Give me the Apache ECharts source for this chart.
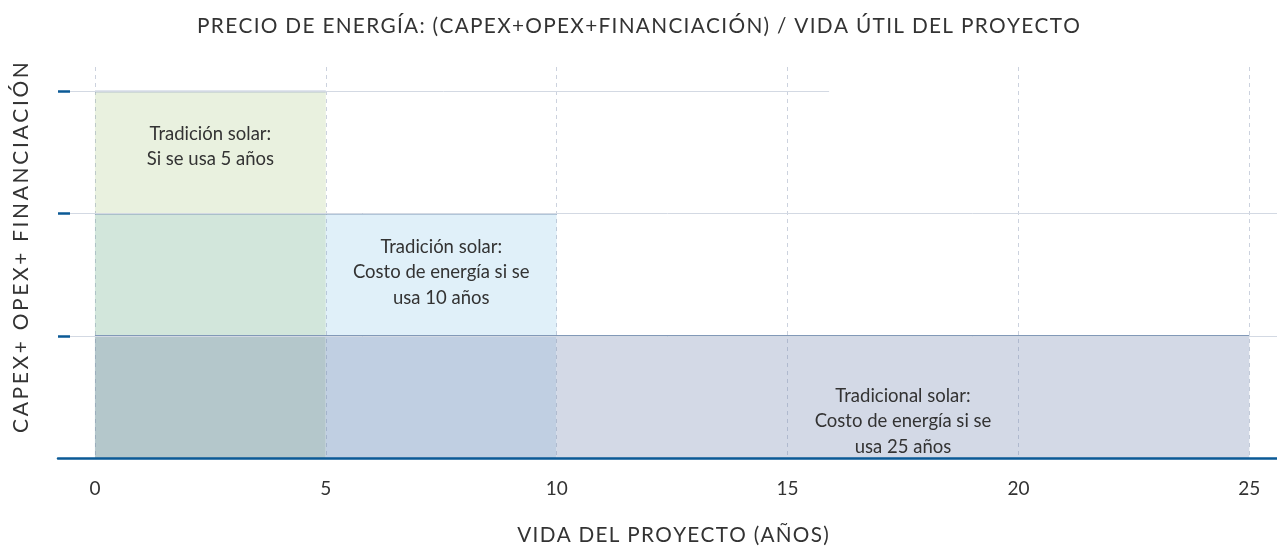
<!DOCTYPE html>
<html>
<head>
<meta charset="utf-8">
<script src="https://cdn.jsdelivr.net/npm/echarts@6/dist/echarts.min.js"></script>
<style>html,body{margin:0;padding:0;background:#fff}#c{width:1277px;height:547px}</style>
</head>
<body>
<div id="c"></div>
<script>
// ---- Data ----
const scenarioNames = ['Tradición solar:\nSi se usa 5 años', 'Tradición solar:\nCosto de energía si se\nusa 10 años', 'Tradicional solar:\nCosto de energía si se\nusa 25 años'];
const lifetimes = [5, 10, 25];          // vida del proyecto (años)
const costLevels = [3, 2, 1];           // CAPEX+OPEX+financiación (relativo)
const xTicks = [0, 5, 10, 15, 20, 25];
const yTicks = [1, 2, 3];

// ---- Style / layout (not data) ----
const fills = ['#e9f1df', '#e0f0f9', '#d3d9e6'];
const labelY = [2.55, 1.52, 0.30];
const FONT = 'Lato';
const HS = '\u200A';
function spaced(s, n) { return s.split('').join(HS.repeat(n)); }

function hex2rgb(h) { return [1, 3, 5].map(k => parseInt(h.substr(k, 2), 16)); }
// overlapping translucent layers: softened multiply
function blendColors(cols) {
  let m = [255, 255, 255], mn = [255, 255, 255];
  cols.forEach(c => { const v = hex2rgb(c); m = m.map((x, k) => x * v[k] / 255); mn = mn.map((x, k) => Math.min(x, v[k])); });
  const r = m.map((x, k) => x + 0.25 * (mn[k] - x));
  return 'rgb(' + r.map(Math.round).join(',') + ')';
}

// Cells of overlapping rectangles (derived from data)
const bx = Array.from(new Set([0].concat(lifetimes))).sort((a, b) => a - b);
const by = Array.from(new Set([0].concat(costLevels))).sort((a, b) => a - b);
const cells = [];
for (let a = 0; a < bx.length - 1; a++) {
  for (let b = 0; b < by.length - 1; b++) {
    const cover = [];
    lifetimes.forEach((l, i) => { if (l >= bx[a + 1] && costLevels[i] >= by[b + 1]) cover.push(i); });
    if (cover.length) cells.push([bx[a], bx[a + 1], by[b], by[b + 1], cover.join(',')]);
  }
}
const rects = lifetimes.map((l, i) => [l, costLevels[i], i]);

const chart = echarts.init(document.getElementById('c'), null, {renderer: 'canvas'});
chart.setOption({
  backgroundColor: '#ffffff',
  animation: false,
  title: {
    text: spaced('PRECIO DE ENERGÍA: (CAPEX+OPEX+FINANCIACIÓN) / VIDA ÚTIL DEL PROYECTO', 1),
    left: 'center', top: 11,
    textStyle: {fontFamily: FONT, fontSize: 20.8, fontWeight: 'normal', color: '#333'}
  },
  grid: {left: 58, right: 0, top: 67, bottom: 89, outerBoundsMode: 'none', containLabel: false},
  xAxis: {
    type: 'value', min: -0.8, max: 25.6,
    name: spaced('VIDA DEL PROYECTO (AÑOS)', 1), nameLocation: 'middle', nameGap: 67,
    nameTextStyle: {fontFamily: FONT, fontSize: 20.7, color: '#333', padding: [0, 0, 0, 11]},
    axisLine: {show: true, onZero: false, lineStyle: {color: '#0b5a96', width: 2.5}},
    axisTick: {show: false, customValues: xTicks},
    axisLabel: {customValues: xTicks, fontFamily: FONT, fontSize: 19, color: '#333', margin: 21},
    splitLine: {show: true, lineStyle: {color: 'rgba(110,125,160,0.35)', type: [4, 4], width: 1}}
  },
  yAxis: {
    type: 'value', min: 0, max: 3.2, z: 10,
    name: spaced('CAPEX+ OPEX+ FINANCIACIÓN', 2), nameLocation: 'middle', nameGap: 26, nameRotate: 90,
    nameTextStyle: {fontFamily: FONT, fontSize: 21, color: '#333', padding: [0, 0, 0, 30]},
    axisLine: {show: false, onZero: false},
    axisTick: {show: true, inside: true, length: 12, customValues: yTicks, lineStyle: {color: '#0b5a96', width: 2.5}},
    axisLabel: {show: false},
    splitLine: {show: false}
  },
  series: [{
    // filled regions (overlapping layers)
    type: 'custom',
    coordinateSystem: 'cartesian2d',
    data: cells,
    z: -1,
    silent: true,
    renderItem: function (params, api) {
      const c = cells[params.dataIndex];
      const p0 = api.coord([c[0], c[2]]);
      const p1 = api.coord([c[1], c[3]]);
      const cols = c[4].split(',').map(k => fills[+k]);
      return {type: 'rect', shape: {x: p0[0], y: p1[1], width: p1[0] - p0[0], height: p0[1] - p1[1]},
              style: {fill: blendColors(cols)}};
    }
  }, {
    type: 'line', data: [], z: 0,
    markLine: {
      silent: true, symbol: 'none', label: {show: false},
      lineStyle: {color: '#d3d9e3', type: 'solid', width: 1},
      data: [
        [{coord: [-0.8, yTicks[0]]}, {coord: [25.6, yTicks[0]]}],
        [{coord: [-0.8, yTicks[1]]}, {coord: [25.6, yTicks[1]]}],
        [{coord: [-0.8, yTicks[2]]}, {coord: [15.9, yTicks[2]]}]
      ]
    }
  }, {
    // rectangle top edges + labels
    type: 'custom',
    coordinateSystem: 'cartesian2d',
    data: rects,
    z: 3,
    renderItem: function (params, api) {
      const i = api.value(2);
      const p0 = api.coord([0, 0]);
      const p1 = api.coord([api.value(0), api.value(1)]);
      const prev = i > 0 ? lifetimes[i - 1] : 0;
      const lp = api.coord([(prev + api.value(0)) / 2, labelY[i]]);
      return {
        type: 'group',
        children: [
          {type: 'line', shape: {x1: p0[0], y1: p1[1], x2: p1[0], y2: p1[1]},
           style: {stroke: '#8299b8', lineWidth: 1.5}},
          {type: 'text', x: lp[0], y: lp[1], z2: 10,
           style: {text: scenarioNames[i], fill: '#333', font: '18.5px ' + FONT, align: 'center', verticalAlign: 'middle', lineHeight: 25.5}}
        ]
      };
    }
  }]
});
</script>
</body>
</html>
